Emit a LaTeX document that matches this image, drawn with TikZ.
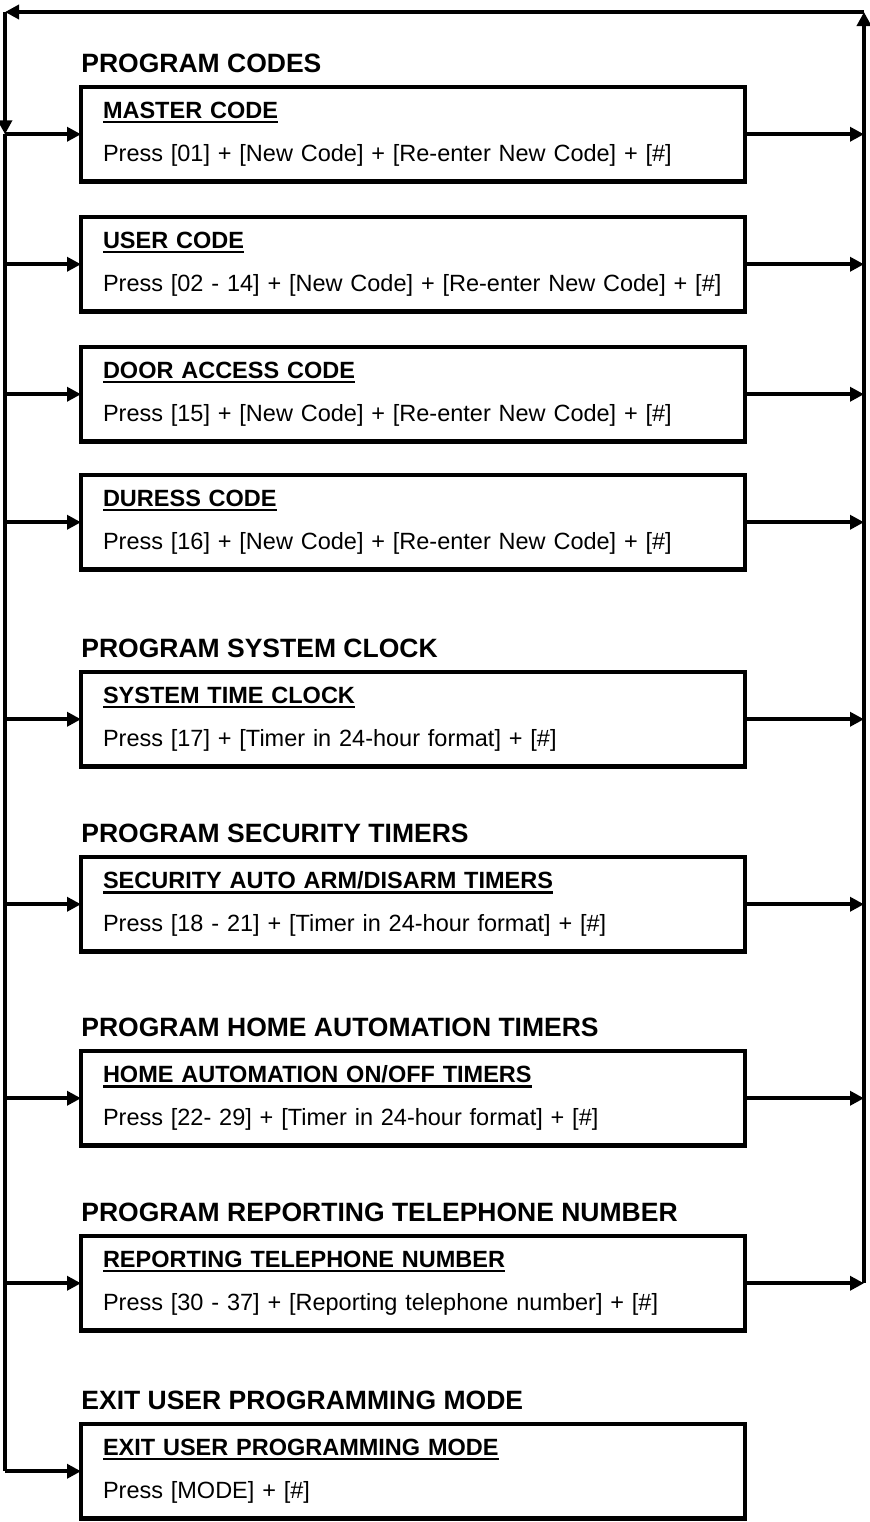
\documentclass[tikz,border=0pt]{standalone}
\usepackage{fontspec}
\setmainfont{Liberation Sans}
\usetikzlibrary{arrows.meta, positioning}
\newsavebox{\titlebox}
\newcommand{\ultitle}[1]{\sbox{\titlebox}{\bfseries #1}\rlap{\usebox{\titlebox}}\rule[-2.4pt]{\wd\titlebox}{1.2pt}}
\tikzset{
  stepbox/.style={draw, line width=2.4pt, minimum width=332pt, minimum height=47.25pt,
    inner xsep=11pt, inner ysep=0pt, outer sep=0pt, text width=310pt, align=left,
    font=\fontsize{11.75}{21.5}\selectfont, anchor=north west},
  grouphead/.style={anchor=base west, inner sep=0pt, font=\bfseries\fontsize{13.25}{16}\selectfont},
  arr/.style={-{Triangle[length=7pt, width=7pt]}, line width=1.8pt},
  spine/.style={line width=1.8pt},
}

\begin{document}
\begin{tikzpicture}[x=0.5pt, y=-0.5pt]
  \useasboundingbox (0,0) rectangle (869,1522);

  % boxes
  \node[stepbox] (b1) at (81,87) {\ultitle{MASTER CODE}\\Press [01] + [New Code] + [Re-enter New Code] + [\#]};
  \node[stepbox] (b2) [below=17.75pt of b1] {\ultitle{USER CODE}\\Press [02 - 14] + [New Code] + [Re-enter New Code] + [\#]};
  \node[stepbox] (b3) [below=17.75pt of b2] {\ultitle{DOOR ACCESS CODE}\\Press [15] + [New Code] + [Re-enter New Code] + [\#]};
  \node[stepbox] (b4) [below=16.75pt of b3] {\ultitle{DURESS CODE}\\Press [16] + [New Code] + [Re-enter New Code] + [\#]};
  \node[stepbox] (b5) [below=51.25pt of b4] {\ultitle{SYSTEM TIME CLOCK}\\Press [17] + [Timer in 24-hour format] + [\#]};
  \node[stepbox] (b6) [below=45.25pt of b5] {\ultitle{SECURITY AUTO ARM/DISARM TIMERS}\\Press [18 - 21] + [Timer in 24-hour format] + [\#]};
  \node[stepbox] (b7) [below=49.75pt of b6] {\ultitle{HOME AUTOMATION ON/OFF TIMERS}\\Press [22- 29] + [Timer in 24-hour format] + [\#]};
  \node[stepbox] (b8) [below=45.25pt of b7] {\ultitle{REPORTING TELEPHONE NUMBER}\\Press [30 - 37] + [Reporting telephone number] + [\#]};
  \node[stepbox] (b9) [below=46.75pt of b8] {\ultitle{EXIT USER PROGRAMMING MODE}\\Press [MODE] + [\#]};

  % group headings
  \node[grouphead] (h1) at ([yshift=7.5pt]b1.north west) {PROGRAM CODES};
  \node[grouphead] (h2) at ([yshift=7.5pt]b5.north west) {PROGRAM SYSTEM CLOCK};
  \node[grouphead] (h3) at ([yshift=7.5pt]b6.north west) {PROGRAM SECURITY TIMERS};
  \node[grouphead] (h4) at ([yshift=7.5pt]b7.north west) {PROGRAM HOME AUTOMATION TIMERS};
  \node[grouphead] (h5) at ([yshift=7.5pt]b8.north west) {PROGRAM REPORTING TELEPHONE NUMBER};
  \node[grouphead] (h6) at ([yshift=7.5pt]b9.north west) {EXIT USER PROGRAMMING MODE};

  % return loop
  \coordinate (ltop) at (5,12);
  \coordinate (rtop) at (864,12);
  \draw[arr] (rtop |- b8.east) -- (rtop);
  \draw[arr] (rtop) -- (ltop);
  \draw[arr] (ltop) -- (ltop |- b1.west);
  \draw[spine] (ltop |- b1.west) -- (ltop |- b9.west);

  % branches
  \foreach \b in {b1,b2,b3,b4,b5,b6,b7,b8,b9}
    \draw[arr] (ltop |- \b.west) -- (\b.west);
  \foreach \b in {b1,b2,b3,b4,b5,b6,b7,b8}
    \draw[arr] (\b.east) -- (rtop |- \b.east);
\end{tikzpicture}
\end{document}
